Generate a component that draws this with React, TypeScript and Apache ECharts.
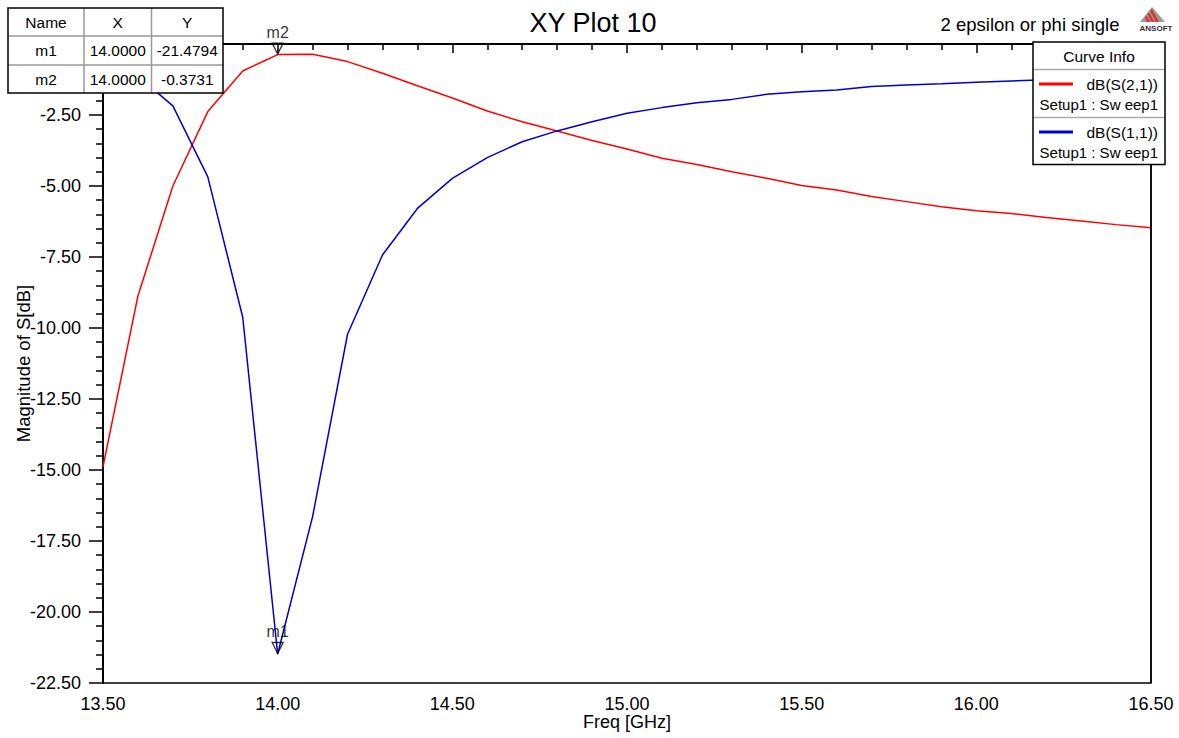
import React, { useEffect, useRef } from "react";
import * as echarts from "echarts";

const freq = [13.5, 13.6, 13.7, 13.8, 13.9, 14.0, 14.1, 14.2, 14.3, 14.4, 14.5, 14.6, 14.7, 14.8, 14.9, 15.0, 15.1, 15.2, 15.3, 15.4, 15.5, 15.6, 15.7, 15.8, 15.9, 16.0, 16.1, 16.2, 16.3, 16.4, 16.5];
const s21 = [-14.88, -8.87, -5.0, -2.38, -0.95, -0.3731, -0.36, -0.62, -1.03, -1.47, -1.9, -2.36, -2.74, -3.06, -3.4, -3.7, -4.02, -4.24, -4.5, -4.73, -4.98, -5.14, -5.37, -5.55, -5.73, -5.87, -5.97, -6.11, -6.23, -6.36, -6.47];
const s11 = [-0.55, -1.13, -2.18, -4.68, -9.62, -21.4794, -16.64, -10.22, -7.43, -5.79, -4.73, -4.0, -3.44, -3.06, -2.74, -2.44, -2.24, -2.07, -1.95, -1.77, -1.68, -1.62, -1.5, -1.44, -1.4, -1.35, -1.3, -1.26, -1.23, -1.2, -1.17];
const markerNames = ["m1", "m2"];
const markerX = [14.0, 14.0];
const markerY = [-21.4794, -0.3731];
const curveNames = ["dB(S(2,1))", "dB(S(1,1))"];
const curveSetup = ["Setup1 : Sw eep1", "Setup1 : Sw eep1"];
const curveColors = ["#ff0000", "#0000cc"];

const FONT = "'Liberation Sans', Arial, sans-serif";

export default function App() {
  const ref = useRef<HTMLDivElement>(null);
  useEffect(() => {
    if (!ref.current) return;
    const chart = echarts.init(ref.current, null, { renderer: "svg" });
    const tri = "path://M0,0 L10,0 L5,11 Z";

    // marker table
    const tX = [8, 84, 151.5, 223];
    const tY = [8, 36, 65, 93];
    const tableRows = [["Name", "X", "Y"], ...markerNames.map((n, i) => [n, markerX[i].toFixed(4), markerY[i].toFixed(4)])];
    const table: any[] = [
      { type: "rect", shape: { x: tX[0], y: tY[0], width: tX[3] - tX[0], height: tY[3] - tY[0] }, style: { fill: "#fff", stroke: "none" }, z: 100 },
    ];
    [1, 2].forEach((c) => table.push({ type: "line", shape: { x1: tX[c], y1: tY[0], x2: tX[c], y2: tY[3] }, style: { stroke: "#999", lineWidth: 1.5 }, z: 101 }));
    [1, 2].forEach((r) => table.push({ type: "line", shape: { x1: tX[0], y1: tY[r], x2: tX[3], y2: tY[r] }, style: { stroke: "#999", lineWidth: 1.5 }, z: 101 }));
    table.push({ type: "rect", shape: { x: tX[0], y: tY[0], width: tX[3] - tX[0], height: tY[3] - tY[0] }, style: { fill: "none", stroke: "#000", lineWidth: 1.5 }, z: 102 });
    tableRows.forEach((row, r) =>
      row.forEach((txt, c) =>
        table.push({
          type: "text",
          x: (tX[c] + tX[c + 1]) / 2,
          y: (tY[r] + tY[r + 1]) / 2,
          style: { text: txt, fill: "#000", font: `15.5px ${FONT}`, align: "center", verticalAlign: "middle" },
          z: 103,
        })
      )
    );

    // legend box
    const lx0 = 1033, lx1 = 1165;
    const ly = [42, 69.5, 117.5, 164.5];
    const legend: any[] = [
      { type: "rect", shape: { x: lx0, y: ly[0], width: lx1 - lx0, height: ly[3] - ly[0] }, style: { fill: "#fff", stroke: "none" }, z: 100 },
      { type: "line", shape: { x1: lx0, y1: ly[1], x2: lx1, y2: ly[1] }, style: { stroke: "#aaa", lineWidth: 1.5 }, z: 101 },
      { type: "line", shape: { x1: lx0, y1: ly[2], x2: lx1, y2: ly[2] }, style: { stroke: "#aaa", lineWidth: 1.5 }, z: 101 },
      { type: "rect", shape: { x: lx0, y: ly[0], width: lx1 - lx0, height: ly[3] - ly[0] }, style: { fill: "none", stroke: "#000", lineWidth: 1.5 }, z: 102 },
      { type: "text", x: 1099, y: 56, style: { text: "Curve Info", fill: "#000", font: `15.5px ${FONT}`, align: "center", verticalAlign: "middle" }, z: 103 },
    ];
    curveNames.forEach((n, i) => {
      const top = ly[i + 1];
      legend.push({ type: "line", shape: { x1: 1039, y1: top + 14.5, x2: 1073, y2: top + 14.5 }, style: { stroke: curveColors[i], lineWidth: 3 }, z: 103 });
      legend.push({ type: "text", x: 1158, y: top + 14.5, style: { text: n, fill: "#000", font: `15.5px ${FONT}`, align: "right", verticalAlign: "middle" }, z: 103 });
      legend.push({ type: "text", x: 1158, y: top + 35, style: { text: curveSetup[i], fill: "#000", font: `15px ${FONT}`, align: "right", verticalAlign: "middle" }, z: 103 });
    });

    // Ansoft logo
    const logo: any[] = [
      { type: "polygon", shape: { points: [[1152, 7], [1140, 22], [1165, 22]] }, style: { fill: "#9a9a9a" }, z: 100 },
      { type: "polygon", shape: { points: [[1150, 11], [1152, 9], [1159, 22], [1156, 22]] }, style: { fill: "#e03030" }, z: 101 },
      { type: "polygon", shape: { points: [[1147.5, 14], [1149, 12.5], [1154.5, 22], [1151.5, 22]] }, style: { fill: "#e03030" }, z: 101 },
      { type: "polygon", shape: { points: [[1145, 17], [1146.5, 15.5], [1150, 22], [1147, 22]] }, style: { fill: "#e03030" }, z: 101 },
      { type: "text", x: 1156, y: 28, style: { text: "ANSOFT", fill: "#333", font: `bold 8px ${FONT}`, align: "center", verticalAlign: "middle" }, z: 101 },
    ];

    const fmt = (v: number) => (Math.abs(v) < 1e-9 ? "" : v.toFixed(2));

    chart.setOption({
      animation: false,
      backgroundColor: "#fff",
      title: [
        { text: "XY Plot 10", left: 588, top: 4, textAlign: "center", textStyle: { fontFamily: FONT, fontSize: 27, fontWeight: "normal", color: "#000" } },
        { text: "2 epsilon or phi single", left: 1025, top: 10, textAlign: "center", textStyle: { fontFamily: FONT, fontSize: 18.5, fontWeight: "normal", color: "#000" } },
      ],
      grid: { left: 103, right: 28, top: 44, bottom: 55, show: true, borderColor: "#000", borderWidth: 1.5, backgroundColor: "transparent", outerBoundsMode: "none", containLabel: false },
      xAxis: {
        type: "value",
        min: 13.5,
        max: 16.5,
        interval: 0.5,
        name: "Freq [GHz]",
        nameLocation: "middle",
        nameGap: 31,
        nameMoveOverlap: false,
        nameTextStyle: { fontFamily: FONT, fontSize: 18, color: "#000", verticalAlign: "top", lineHeight: 16 },
        axisLine: { lineStyle: { color: "#000", width: 2 } },
        axisTick: { length: 9, lineStyle: { color: "#000", width: 1.5 } },
        minorTick: { show: true, splitNumber: 5, length: 6, lineStyle: { color: "#000", width: 1.5 } },
        axisLabel: { margin: 13, fontFamily: FONT, fontSize: 18, lineHeight: 16, color: "#000", formatter: (v: number) => v.toFixed(2) },
        splitLine: { show: false },
      },
      yAxis: {
        type: "value",
        min: -22.5,
        max: 0,
        interval: 2.5,
        name: "Magnitude of S[dB]",
        nameLocation: "middle",
        nameGap: 70,
        nameMoveOverlap: false,
        nameTextStyle: { fontFamily: FONT, fontSize: 18.5, color: "#000" },
        axisLine: { lineStyle: { color: "#000", width: 2 } },
        axisTick: { length: 14, lineStyle: { color: "#000", width: 1.5 } },
        minorTick: { show: true, splitNumber: 5, length: 7, lineStyle: { color: "#000", width: 1.5 } },
        axisLabel: { margin: 22, fontFamily: FONT, fontSize: 18, color: "#000", formatter: fmt },
        splitLine: { show: false },
      },
      series: [
        {
          type: "line",
          name: curveNames[0],
          data: freq.map((f, i) => [f, s21[i]]),
          showSymbol: false,
          lineStyle: { color: curveColors[0], width: 1.5 },
          z: 3,
        },
        {
          type: "line",
          name: curveNames[1],
          data: freq.map((f, i) => [f, s11[i]]),
          showSymbol: false,
          lineStyle: { color: curveColors[1], width: 1.5 },
          z: 3,
        },
        {
          type: "scatter",
          data: markerNames.map((n, i) => ({ value: [markerX[i], markerY[i]], name: n })),
          symbol: tri,
          symbolSize: [11, 11],
          symbolOffset: [0, -6],
          clip: false,
          itemStyle: { color: "rgba(255,255,255,0)", borderColor: "#000", borderWidth: 1.3 },
          label: { show: true, position: "top", distance: 2, formatter: (p: any) => p.name, fontFamily: FONT, fontSize: 16, color: "#000" },
          z: 5,
        },
      ],
      graphic: [...table, ...legend, ...logo, { type: "line", shape: { x1: 1151, y1: 164.5, x2: 1151, y2: 683 }, style: { stroke: "#000", lineWidth: 1.5 }, z: 99 }],
    });
    return () => chart.dispose();
  }, []);
  return <div ref={ref} style={{ position: "fixed", left: 0, top: 0, width: 1179, height: 738 }} />;
}
